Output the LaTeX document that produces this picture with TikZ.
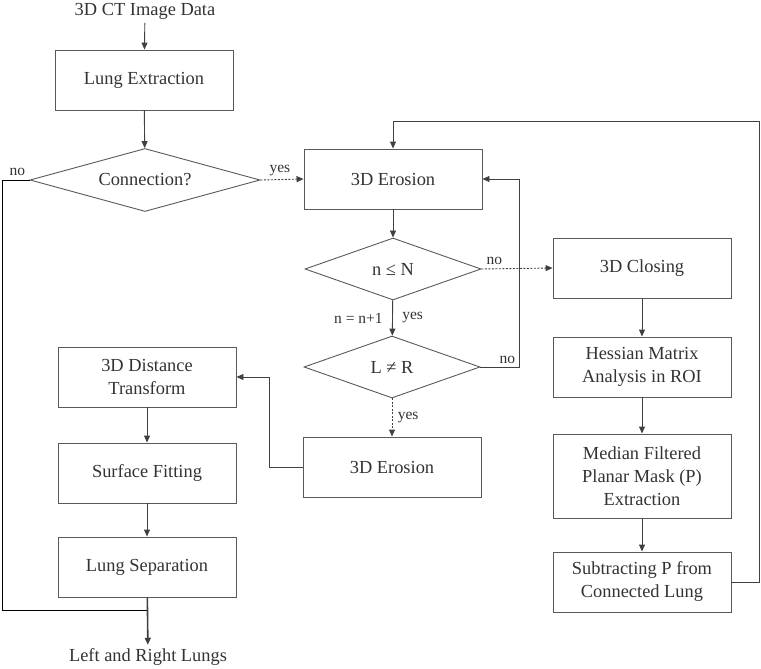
\documentclass[tikz,border=0pt]{standalone}
\usepackage{fontspec}
\setmainfont{Liberation Serif}
\usetikzlibrary{arrows.meta,shapes.geometric}
\tikzset{
  box/.style={draw=black!65,rectangle,minimum width=178pt,minimum height=60pt,align=center,inner sep=2pt},
  decision/.style={draw=black!65,diamond,aspect=3,inner sep=0pt,minimum width=176pt,minimum height=62pt},
  arr/.style={-{Triangle[length=7pt,width=6pt]},draw=black!75},
  dasharr/.style={arr,dash pattern=on 2pt off 1.5pt},
  lbl/.style={font=\fontsize{15.5}{18}\selectfont,text=black!80},
}
\begin{document}
\begin{tikzpicture}[x=1pt,y=-1pt,font=\fontsize{18.4}{23}\selectfont,text=black!80,line width=0.9pt]
\useasboundingbox (0,0) rectangle (761,669);
% left column
\node (input) at (145,11) {3D CT Image Data};
\node[box] (extract) at (144,80) {Lung Extraction};
\node[decision,minimum width=230pt,minimum height=63pt] (conn) at (145,180) {Connection?};
\node[box] (dist) at (147,377) {3D Distance\\Transform};
\node[box] (fit) at (147,473) {Surface Fitting};
\node[box] (sep) at (147,567) {Lung Separation};
\node (output) at (148,657) {Left and Right Lungs};
% middle column
\node[box] (erode) at (393,179) {3D Erosion};
\node[decision] (check) at (393,269) {n ≤ N};
\node[decision] (split) at (392,367) {L ≠ R};
\node[box] (erode2) at (392,467) {3D Erosion};
% right column
\node[box] (close) at (642,268) {3D Closing};
\node[box] (hess) at (642,367) {Hessian Matrix\\Analysis in ROI};
\node[box,minimum height=84pt] (median) at (642,476) {Median Filtered\\Planar Mask (P)\\Extraction};
\node[box] (subtr) at (642,582) {Subtracting P from\\Connected Lung};
% connectors
\coordinate (join) at (148,610);
\draw[arr] (input) -- (extract);
\draw[arr] (extract) -- (conn);
\draw[dasharr] (conn.east) -- (erode.west) node[lbl,pos=.45,above] {yes};
\draw (conn.west) -- ++(-27,0) node[lbl,above=1pt,pos=.45] {no} |- (join);
\draw[arr] (erode) -- (check);
\draw[dasharr] (check.east) -- (close.west) node[lbl,pos=.18,above] {no};
\draw[arr] (check) -- (split) node[lbl,midway,right=6pt] {yes} node[lbl,midway,left=6pt] {n = n+1};
\draw[arr] (split.east) -| (519,179) node[lbl,pos=.35,above] {no} -- (erode.east);
\draw[dasharr] (split) -- (erode2) node[lbl,midway,right=2pt] {yes};
\draw[arr] (erode2.west) -| (269,377) -- (dist.east);
\draw[arr] (dist) -- (fit);
\draw[arr] (fit) -- (sep);
\draw[arr,line width=1.6pt] (sep) -- (output);
\draw[arr] (close) -- (hess);
\draw[arr] (hess) -- (median);
\draw[arr] (median) -- (subtr);
\draw[arr] (subtr.east) -| (759,121) -| (erode.north);
\end{tikzpicture}
\end{document}
